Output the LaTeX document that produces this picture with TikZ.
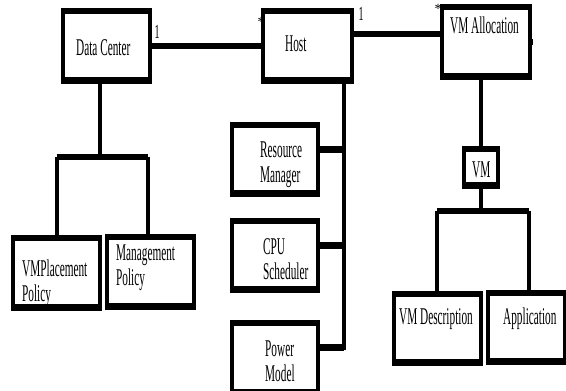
\documentclass[tikz,border=0pt]{standalone}
\usepackage{fontspec}
\usepackage{graphicx}
\setmainfont{Liberation Serif}
\newcommand\boxtext[1]{\scalebox{0.47}[1]{\begin{tabular}[t]{@{}l@{}}#1\end{tabular}}}
\tikzset{
  umlbox/.style 2 args={draw, line width=3.2pt, minimum width=#1, minimum height=#2,
    inner sep=0pt, outer sep=0pt},
  boxlabel/.style={anchor=base west, inner sep=0pt, font=\fontsize{24}{25}\selectfont},
  mult/.style={inner sep=0pt, font=\fontsize{20}{22}\selectfont},
  conn/.style={line width=4pt},
  bar/.style={line width=6.5pt}
}
\begin{document}
\begin{tikzpicture}[x=1pt, y=-1pt]
\useasboundingbox (0,0) rectangle (566,391);
% boxes
\node[umlbox={87pt}{72pt}] (dc) at (106.5,46) {};
\node[umlbox={89pt}{72pt}] (host) at (307.5,46) {};
\node[umlbox={88pt}{72pt}] (vma) at (486,42) {};
\node[umlbox={34pt}{39pt}] (vm) at (481,167.5) {};
\node[umlbox={87pt}{71pt}] (vmd) at (437.5,328.5) {};
\node[umlbox={77pt}{71pt}] (app) at (526.5,327.5) {};
\node[umlbox={87pt}{72pt}] (vmp) at (56.5,273) {};
\node[umlbox={87pt}{72pt}] (mp) at (150.5,272) {};
\node[umlbox={86pt}{71pt}] (rm) at (275,159.5) {};
\node[umlbox={86pt}{71pt}] (cpu) at (275,255.5) {};
\node[umlbox={86pt}{72pt}] (pm) at (275,357.5) {};
\foreach \b in {dc,host,vma,vm,vmd,app,vmp,mp,rm,cpu,pm} {
  \fill ([xshift=-1.6pt]\b.north west) rectangle ([xshift=1.6pt,yshift=-4pt]\b.north east);
  \fill ([xshift=-1.6pt]\b.south west) rectangle ([xshift=1.6pt,yshift=5pt]\b.south east);
}
% texts
\node[boxlabel] (dc-t) at (76,55) {\boxtext{Data Center}};
\node[boxlabel] (host-t) at (285,51) {\boxtext{Host}};
\node[boxlabel] (vma-t) at (450,33) {\boxtext{VM Allocation}};
\node[boxlabel] (vm-t) at (472,177) {\boxtext{VM}};
\node[boxlabel] (vmd-t) at (399,324) {\boxtext{VM Description}};
\node[boxlabel] (app-t) at (503,324) {\boxtext{Application}};
\node[boxlabel] (vmp-t) at (22,276) {\boxtext{VMPlacement\\Policy}};
\node[boxlabel] (mp-t) at (116,260) {\boxtext{Management\\Policy}};
\node[boxlabel] (rm-t) at (260,157) {\boxtext{Resource\\Manager}};
\node[boxlabel] (cpu-t) at (263,254) {\boxtext{CPU\\Scheduler}};
\node[boxlabel] (pm-t) at (265,356) {\boxtext{Power\\Model}};
% associations
\draw[bar] (dc) -- (host);
\draw[bar] ([yshift=12pt]host.east) -- ([yshift=12pt]host.east -| vma.west);
\node[mult] (m1) at (157,32) {\scalebox{0.5}[1]{1}};
\node[mult, font=\fontsize{14}{14}\selectfont] (m2) at (261,22) {*};
\node[mult] (m3) at (361,14) {\scalebox{0.5}[1]{1}};
\node[mult, font=\fontsize{14}{14}\selectfont] (m4) at (438,9) {*};
\fill (529,39) rectangle (533,45);
% data center branch
\coordinate (dcj) at (100,157);
\draw[conn] (dc.south -| dcj) -- (dcj);
\draw[bar] (vmp.north |- dcj) -- ([xshift=-2.5pt]mp.north |- dcj);
\draw[conn] (vmp.north |- dcj) -- (vmp.north);
\draw[conn] ([xshift=-2.5pt]mp.north |- dcj) -- ([xshift=-2.5pt]mp.north);
% host branch
\coordinate (hostv) at (344,349.5);
\draw[conn] (host.south -| hostv) -- (hostv);
\draw[bar] ([yshift=10pt]rm.east) -- ([yshift=10pt]rm.east -| hostv);
\draw[bar] ([yshift=10pt]cpu.east) -- ([yshift=10pt]cpu.east -| hostv);
\draw[bar] ([yshift=10pt]pm.east) -- ([yshift=10pt]pm.east -| hostv);
% vm allocation branch
\draw[conn] (vma.south -| vm.north) -- (vm.north);
\coordinate (vmj) at (481,211);
\draw[conn] (vm.south) -- (vmj);
\draw[bar] ([xshift=-0.5pt]vmd.north |- vmj) -- ([xshift=2.5pt]app.north |- vmj);
\draw[conn] ([xshift=-0.5pt]vmd.north |- vmj) -- ([xshift=-0.5pt]vmd.north);
\draw[conn] ([xshift=2.5pt]app.north |- vmj) -- ([xshift=2.5pt]app.north);
\end{tikzpicture}
\end{document}
